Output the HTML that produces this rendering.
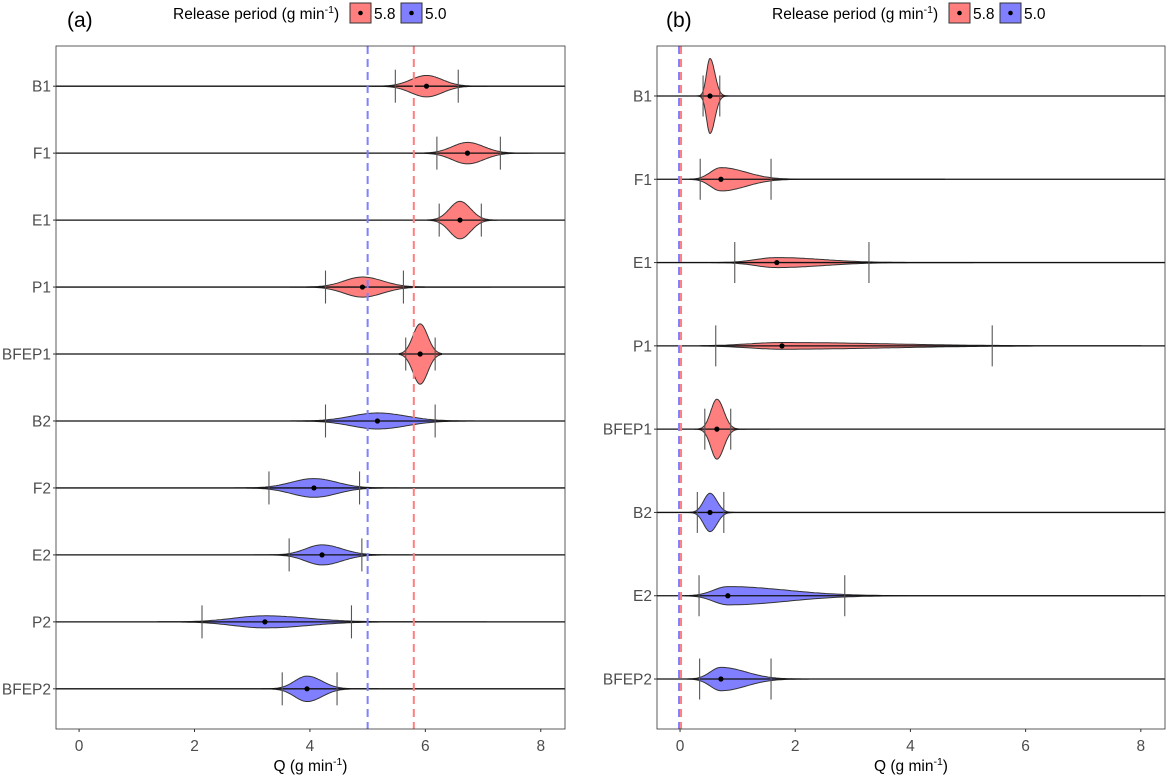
<!DOCTYPE html>
<html><head><meta charset="utf-8">
<style>
html,body{margin:0;padding:0;background:#fff;}
svg{display:block;font-family:"Liberation Sans",Arial,sans-serif;}
</style></head>
<body>
<svg id="chart" width="1166" height="775" viewBox="0 0 1166 775" xmlns="http://www.w3.org/2000/svg"></svg>
<script>
// ---- Panel (a) data ----
const catsA = ["B1","F1","E1","P1","BFEP1","B2","F2","E2","P2","BFEP2"];
const groupA = ["5.8","5.8","5.8","5.8","5.8","5.0","5.0","5.0","5.0","5.0"];
const medA = [6.02,6.73,6.6,4.91,5.91,5.17,4.07,4.21,3.22,3.95];
const loA = [5.48,6.2,6.24,4.27,5.66,4.27,3.29,3.64,2.13,3.52];
const hiA = [6.57,7.3,6.97,5.62,6.17,6.17,4.86,4.9,4.72,4.47];
const minA = [5.07,5.72,6.04,3.65,5.55,3.43,2.7,3.03,1.37,3.17];
const maxA = [7.07,7.88,7.25,7.14,6.28,7.77,5.55,5.72,7.07,5.19];
const densA = [0.16,0.16,0.28,0.15,0.45,0.12,0.14,0.15,0.09,0.19];
const refA = [5.0,5.8];
// ---- Panel (b) data ----
const catsB = ["B1","F1","E1","P1","BFEP1","B2","E2","BFEP2"];
const groupB = ["5.8","5.8","5.8","5.8","5.8","5.0","5.0","5.0"];
const medB = [0.52,0.71,1.68,1.77,0.64,0.52,0.83,0.71];
const loB = [0.4,0.35,0.95,0.62,0.43,0.3,0.33,0.34];
const hiB = [0.69,1.58,3.28,5.42,0.88,0.76,2.86,1.58];
const minB = [0.26,0.17,0.55,0.35,0.26,0.17,0.09,0.12];
const maxB = [1.04,4.6,5.1,8.0,1.56,0.95,8.0,3.44];
const densB = [0.45,0.14,0.06,0.04,0.36,0.23,0.11,0.14];
const refB = [0.0,0.0];
const xTicks = [0,2,4,6,8];

const NS="http://www.w3.org/2000/svg";
const svg=document.getElementById('chart');
function mk(tag,attrs,parent){const e=document.createElementNS(NS,tag);for(const k in attrs)e.setAttribute(k,attrs[k]);(parent||svg).appendChild(e);return e;}
const fill={"5.8":"#ff7f7f","5.0":"#7f7fff"};
const lineCol={"5.8":"#ff7f7f","5.0":"#7f7fff"};
const FS=15.5;

function panel(o){
  const {left,right,top,bottom,cats,group,med,lo,hi,mn,mx,dens,ref,label,tickH,legX}=o;
  const g=mk('g',{});
  
  
  const x0=-0.4,x1=8.42;
  const X=v=>left+(v-x0)/(x1-x0)*(right-left);
  const n=cats.length, step=(bottom-top)/(n-1+1.2);
  const Y=i=>top+step*(0.6+i);
  mk('rect',{x:left,y:top,width:right-left,height:bottom-top,fill:'#fff'},g);
  cats.forEach((c,i)=>{
    const y=Y(i);
    const rg=mk('g',{},g);
    
    
    const W=dens[i]*step;
    const sL=(med[i]-lo[i])/2, sR=(hi[i]-med[i])/2;
    const ptsT=[],ptsB=[];
    const N=120;
    for(let k=0;k<=N;k++){
      const v=mn[i]+(mx[i]-mn[i])*k/N;
      const s=v<med[i]?sL:sR;
      const d=Math.exp(-0.5*Math.pow((v-med[i])/s,2));
      ptsT.push([X(v),y-W*d]);ptsB.push([X(v),y+W*d]);
    }
    const dstr='M'+ptsT.map(p=>p[0].toFixed(1)+','+p[1].toFixed(1)).join(' L')+' L'+ptsB.reverse().map(p=>p[0].toFixed(1)+','+p[1].toFixed(1)).join(' L')+' Z';
    const vp=mk('path',{d:dstr,fill:fill[group[i]],stroke:'#333','stroke-width':1},rg);
    
    
    const hl=mk('line',{x1:left,x2:right,y1:y,y2:y,stroke:'#111','stroke-width':1.3},rg);
    
    
    [lo[i],hi[i]].forEach((v,j)=>{
      const t=mk('line',{x1:X(v),x2:X(v),y1:y-tickH,y2:y+tickH,stroke:'#555','stroke-width':1.1},rg);
      
      
    });
    const pt=mk('circle',{cx:X(med[i]),cy:y,r:2.6,fill:'#000'},rg);
    
    
    const lab=mk('text',{x:left-5,y:y+5.5,'text-anchor':'end','font-size':FS,fill:'#4d4d4d'},g);
    lab.textContent=c;
    
    
    mk('line',{x1:left-3,x2:left,y1:y,y2:y,stroke:'#333'},g);
  });
  const refs=[["5.0",ref[0],-1],["5.8",ref[1],1]];
  refs.forEach(r=>{
    const off=ref[0]===ref[1]?r[2]:0;
    const l=mk('line',{x1:X(r[1])+off,x2:X(r[1])+off,y1:top,y2:bottom,stroke:lineCol[r[0]],'stroke-width':2,'stroke-dasharray':'8,5'},g);
    
    
  });
  const fr=mk('rect',{x:left,y:top,width:right-left,height:bottom-top,fill:'none',stroke:'#333','stroke-width':0.8},g);
  
  
  xTicks.forEach(t=>{
    mk('line',{x1:X(t),x2:X(t),y1:bottom,y2:bottom+3,stroke:'#333'},g);
    const tl=mk('text',{x:X(t),y:bottom+22,'text-anchor':'middle','font-size':FS,fill:'#4d4d4d'},g);
    tl.textContent=t;
    
    
  });
  const xt=mk('text',{x:(left+right)/2,y:771,'text-anchor':'middle','font-size':FS,fill:'#000'},g);
  xt.innerHTML='Q (g min<tspan dy="-6" font-size="10.5">-1</tspan><tspan dy="6">)</tspan>';
  
  
  const pl=mk('text',{x:legX-106,y:27,'font-size':21,fill:'#000'},g);
  pl.textContent='('+label+')';
  
  
  const lg=mk('g',{},g);
  
  
  const lt=mk('text',{x:legX,y:19,'font-size':FS,fill:'#000'},lg);
  lt.innerHTML='Release period (g min<tspan dy="-6" font-size="10.5">-1</tspan><tspan dy="6">)</tspan>';
  [["5.8",legX+177],["5.0",legX+228]].forEach(e=>{
    const eg=mk('g',{},lg);
    
    
    mk('rect',{x:e[1],y:3,width:21,height:20,fill:fill[e[0]],stroke:'#333','stroke-width':1},eg);
    mk('circle',{cx:e[1]+10.5,cy:13,r:2.3,fill:'#000'},eg);
    const et=mk('text',{x:e[1]+24,y:19,'font-size':FS,fill:'#000'},eg);
    et.textContent=e[0];
  });
}
panel({left:56,right:565,top:46,bottom:729,cats:catsA,group:groupA,med:medA,lo:loA,hi:hiA,mn:minA,mx:maxA,dens:densA,ref:refA,label:'a',tickH:16.5,legX:173});
panel({left:657,right:1165,top:46,bottom:729,cats:catsB,group:groupB,med:medB,lo:loB,hi:hiB,mn:minB,mx:maxB,dens:densB,ref:refB,label:'b',tickH:20.5,legX:772});
</script>
</body></html>
